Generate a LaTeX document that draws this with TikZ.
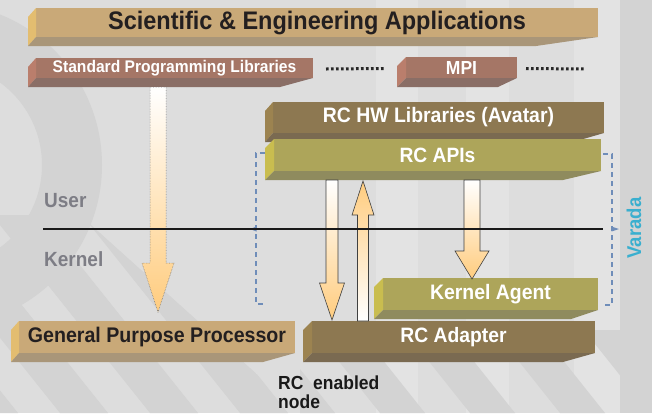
\documentclass[tikz,border=0pt]{standalone}
\usepackage{fontspec}
\usepackage{graphicx}
\setmainfont{Liberation Sans}
\usetikzlibrary{calc}

% background
\definecolor{bgbase}{HTML}{DDDDDD}
\definecolor{bgdark}{HTML}{D3D3D3}
\definecolor{bglight}{HTML}{E3E3E3}
% slab palettes: front face, left face, bottom face, text
\definecolor{tanfront}{HTML}{C9A978}
\definecolor{tanside}{HTML}{E3BD70}
\definecolor{tanbase}{HTML}{A99679}
\definecolor{tanink}{HTML}{231F20}
\definecolor{rosefront}{HTML}{A57666}
\definecolor{roseside}{HTML}{BA7E6C}
\definecolor{rosebase}{HTML}{8A6E66}
\definecolor{roseink}{HTML}{FFFFFF}
\definecolor{brownfront}{HTML}{8D7851}
\definecolor{brownside}{HTML}{9C8350}
\definecolor{brownbase}{HTML}{7A6A51}
\definecolor{brownink}{HTML}{FFFFFF}
\definecolor{olivefront}{HTML}{ADA55A}
\definecolor{oliveside}{HTML}{C9BD4F}
\definecolor{olivebase}{HTML}{8F8B5E}
\definecolor{oliveink}{HTML}{FFFFFF}
% other
\definecolor{flowlight}{HTML}{FFFFFF}
\definecolor{flowhead}{HTML}{FFCC7E}
\definecolor{bracketblue}{HTML}{6F8DB9}
\definecolor{layergray}{HTML}{7D7D85}
\definecolor{varadacyan}{HTML}{3AAFCF}

\tikzset{
  slabface/.style={inner sep=0pt, outer sep=0pt, font=\bfseries},
  layerlabel/.style={anchor=west, inner sep=0pt, text=layergray,
    font=\bfseries\fontsize{19}{19}\selectfont},
  flowdown/.style={top color=flowlight, bottom color=flowhead,
    draw=black!75, line width=0.6pt, line join=miter},
  flowup/.style={top color=flowhead, bottom color=flowlight,
    draw=black!75, line width=0.6pt, line join=miter},
  flowsoft/.style={flowdown, draw=black!55, densely dotted, line width=0.5pt},
  etcdots/.style={line width=3pt, dash pattern=on 2.6pt off 2.4pt, draw=black!85},
  bracket/.style={draw=bracketblue, line width=1.3pt, dash pattern=on 5pt off 4pt},
  bracketmark/.style={fill=bracketblue},
}

% tall bold lettering used on the slabs and labels
\newcommand\tall[1]{\scalebox{1}[1.08]{#1}}

% a bevelled slab: name, palette, bevel x, front left, front top, front right,
% front bottom, x where the bottom face ends, text
\newcommand\slab[9]{%
  \node[slabface, fill=#2front, text=#2ink, anchor=north west,
        minimum width={(#6-#4)*1pt}, minimum height={(#7-#5)*1pt}]
        (#1) at (#4,#5) {\tall{#9}};
  \fill[#2side] (#1.north west) -- (#3,#5+9) -- (#3,#7+9) -- (#1.south west) -- cycle;
  \fill[#2base] (#1.south west) -- (#1.south east) -- (#8,#7+9) -- (#3,#7+9) -- cycle;
}

% block arrow: style, tail, tip, half shaft width, half head width, head length
\newcommand\blockarrow[6]{%
  \path[#1] let \p1=(#2), \p2=(#3), \n1={sign(\y1-\y2)} in
    (\x1-#4,\y1) -- (\x1+#4,\y1) -- (\x1+#4,\y2+\n1*#6) -- (\x1+#5,\y2+\n1*#6)
    -- (\x2,\y2) -- (\x1-#5,\y2+\n1*#6) -- (\x1-#4,\y2+\n1*#6) -- cycle;
}

\begin{document}
\begin{tikzpicture}[x=1pt,y=-1pt]
\useasboundingbox (0,0) rectangle (652,413);

% ---- background texture ----
\fill[bgbase] (0,0) rectangle (652,413);
\fill[bglight] (376,0) rectangle (418,413);
\fill[bglight] (466,0) rectangle (509,413);
\fill[bglight] (574,0) rectangle (620,413);
\begin{scope}
  \clip (0,0) -- (330,0) -- (330,413) -- (0,413) -- cycle;
  \fill[bgdark, even odd rule] (-60,165) circle[radius=162] (-60,165) circle[radius=102];
\end{scope}
\begin{scope}
  \clip (0,215) -- (80,215) -- (300,413) -- (0,413) -- cycle;
  \foreach \k in {-200,-110,...,300}
    \fill[bgdark] (\k,200) -- (\k+48,200) -- (\k+48+170,413) -- (\k+170,413) -- cycle;
\end{scope}
\begin{scope}
  \clip (300,330) rectangle (620,413);
  \foreach \k in {200,290,...,560}
    \fill[bgdark] (\k,300) -- (\k+45,300) -- (\k+45+90,413) -- (\k+90,413) -- cycle;
\end{scope}
\fill[bgdark] (620,0) rectangle (652,413);

% ---- layer bracket ----
\draw[bracket] (265,153) -- (256,153) -- (256,304) -- (265,304);
\draw[bracket] (603,154) -- (612,154) -- (612,305) -- (605,305);
\fill[bracketmark] (250,229) -- (256.5,226.5) -- (256.5,231.5) -- cycle;
\fill[bracketmark] (619,229) -- (611.5,226.5) -- (611.5,231.5) -- cycle;

% ---- slabs ----
\slab{apps}{tan}{28}{36}{8}{598}{37}{536}%
  {\fontsize{23.5}{23.5}\selectfont Scientific \& Engineering Applications}
\slab{stdlib}{rose}{28}{36}{58}{313}{78}{280}%
  {\fontsize{15.6}{15.6}\selectfont Standard Programming Libraries}
\slab{mpi}{rose}{397}{406}{57}{517}{78}{498}%
  {\fontsize{17.5}{17.5}\selectfont MPI}
\slab{hwlib}{brown}{265}{273}{102}{604}{133}{573}%
  {\fontsize{19.4}{19.4}\selectfont RC HW Libraries (Avatar)}
\slab{apis}{olive}{265}{274}{139}{601}{171}{563}%
  {\fontsize{19.2}{19.2}\selectfont RC APIs}
\slab{agent}{olive}{374}{383}{278}{598}{310}{571}%
  {\fontsize{19.4}{19.4}\selectfont Kernel Agent}
\slab{gpp}{tan}{11}{19}{321}{295}{353}{263}%
  {\fontsize{19.6}{19.6}\selectfont General Purpose Processor}
\slab{adapter}{brown}{303}{312}{321}{595}{353}{563}%
  {\fontsize{19.3}{19.3}\selectfont RC Adapter}

% ---- "more libraries" dots ----
\coordinate (moreend) at (585,69);
\draw[etcdots] ($(stdlib.east)+(13,1)$) -- ($(mpi.west)+(-21,1)$);
\draw[etcdots] ($(mpi.east)+(9,1)$) -- (moreend);

% ---- flow arrows ----
\blockarrow{flowsoft}{$(158,0 |- stdlib.south)+(0,9)$}{$(158,0 |- gpp.north)+(0,-9)$}{8pt}{16pt}{49pt}
\blockarrow{flowdown}{$(332,0 |- apis.south)+(0,9)$}{$(332,0 |- adapter.north)+(0,-1)$}{6pt}{12.5pt}{37pt}
\blockarrow{flowup}{$(363,0 |- adapter.north)$}{$(363,0 |- apis.south)+(0,10)$}{5.5pt}{11pt}{34pt}
\blockarrow{flowdown}{$(472,0 |- apis.south)+(0,9)$}{$(472,0 |- agent.north)+(0,1)$}{8pt}{17pt}{28pt}

% ---- user / kernel boundary ----
\node[layerlabel] (user) at (44,201) {\tall{User}};
\node[layerlabel] (kernel) at (44,259) {\tall{Kernel}};
\coordinate (splitL) at (43,229);
\coordinate (splitR) at (603,229);
\draw[black!90, line width=1.2pt] (splitL) -- (splitR);

% ---- labels ----
\node[rotate=90, text=varadacyan, inner sep=0pt,
      font=\bfseries\fontsize{18.5}{18.5}\selectfont] (varada) at (634,228) {\tall{Varada}};
\node[anchor=north west, align=left, inner sep=0pt, text=black!90,
      font=\bfseries\fontsize{17.5}{19}\selectfont] (rcnode) at (278,376)
      {\tall{RC~ enabled}\\\tall{node}};
\end{tikzpicture}
\end{document}
